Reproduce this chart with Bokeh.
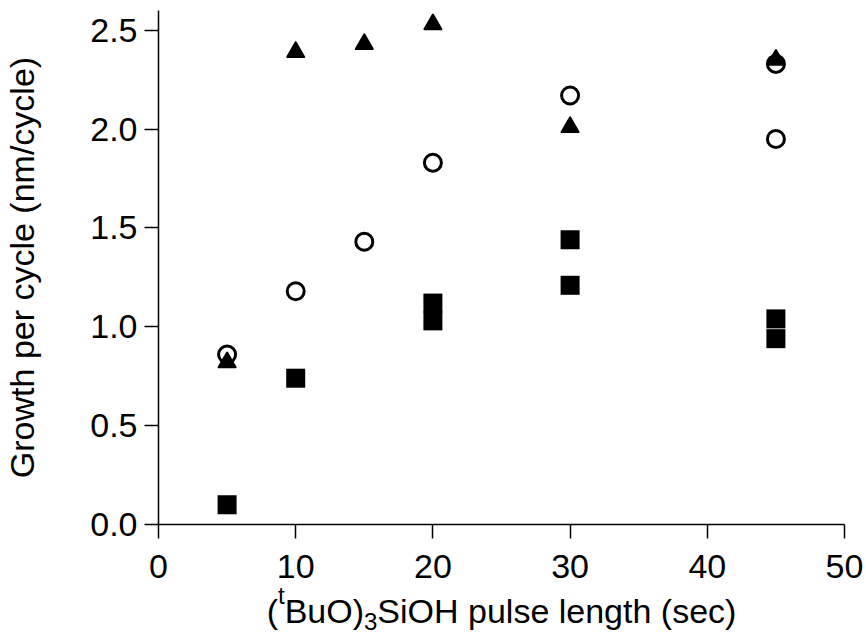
from bokeh.plotting import figure
from bokeh.models import Range1d, Label, PrintfTickFormatter
from bokeh.embed import file_html
from bokeh.resources import INLINE

# Growth per cycle vs. silanol pulse length, three precursor series
pulse_tri = [5, 10, 15, 20, 30, 45]
gpc_tri = [0.82, 2.39, 2.43, 2.53, 2.01, 2.35]

pulse_circ = [5, 10, 15, 20, 30, 45, 45]
gpc_circ = [0.86, 1.18, 1.43, 1.83, 2.17, 2.33, 1.95]

pulse_sq = [5, 10, 20, 20, 30, 30, 45, 45]
gpc_sq = [0.10, 0.74, 1.12, 1.03, 1.44, 1.21, 1.04, 0.94]

x_ticks = [0, 10, 20, 30, 40, 50]
y_ticks = [0.0, 0.5, 1.0, 1.5, 2.0, 2.5]
X_LIM = (0, 50)
Y_LIM = (0, 2.6)

FONT = "Liberation Sans"
FS = 34
W, H = 866, 641
# pixel box occupied by the axes (left, right, top, bottom)
AX_L, AX_R, AX_T, AX_B = 158, 844, 10, 524

# the plotting frame fills the canvas; axes sit at fixed locations inside it
sx = (AX_R - AX_L) / (X_LIM[1] - X_LIM[0])
sy = (AX_B - AX_T) / (Y_LIM[1] - Y_LIM[0])
x_lo = X_LIM[0] - AX_L / sx
x_hi = X_LIM[1] + (W - AX_R) / sx
y_hi = Y_LIM[1] + AX_T / sy
y_lo = Y_LIM[0] - (H - AX_B) / sy

p = figure(width=W, height=H, x_range=Range1d(x_lo, x_hi), y_range=Range1d(y_lo, y_hi),
           output_backend="svg", toolbar_location=None, min_border=0)
p.outline_line_color = None
p.grid.visible = False
p.background_fill_color = "white"
p.border_fill_color = "white"

for ax in (p.xaxis, p.yaxis):
    ax.axis_line_width = 1.5
    ax.axis_line_color = "black"
    ax.major_tick_line_width = 1.5
    ax.major_tick_line_color = "black"
    ax.major_tick_out = 14
    ax.major_tick_in = 0
    ax.minor_tick_line_color = None
    ax.major_label_text_font = FONT
    ax.major_label_text_font_size = f"{FS}px"
    ax.major_label_text_color = "black"

p.xaxis.fixed_location = Y_LIM[0]
p.yaxis.fixed_location = X_LIM[0]
p.xaxis.bounds = X_LIM
p.yaxis.bounds = Y_LIM
p.xaxis.ticker = x_ticks
p.yaxis.ticker = y_ticks
p.yaxis.formatter = PrintfTickFormatter(format="%.1f")
p.xaxis.major_label_standoff = 16
p.yaxis.major_label_standoff = 7

p.yaxis.axis_label = "Growth per cycle (nm/cycle)"
p.yaxis.axis_label_text_font = FONT
p.yaxis.axis_label_text_font_size = f"{FS}px"
p.yaxis.axis_label_text_font_style = "normal"
p.yaxis.axis_label_text_color = "black"
p.yaxis.axis_label_standoff = 46

# markers
p.scatter(pulse_circ, gpc_circ, marker="circle", size=17, fill_color=None,
          line_color="black", line_width=3)
p.scatter(pulse_sq, gpc_sq, marker="square", size=19, fill_color="black",
          line_color=None)
p.scatter(pulse_tri, gpc_tri, marker="triangle", size=17, fill_color="black",
          line_color="black", line_width=2, line_join="round")

# x-axis title with superscript t and subscript 3, set piece by piece
def to_x(px):
    return x_lo + px / sx
def to_y(py):
    return y_hi - py / sy

SMALL = 24
adv = {"(": 0.333, "t": 0.278, "BuO)": 2.334, "3": 0.556,
       "SiOH pulse length (sec)": 10.559}
pieces = [("(", FS, 0), ("t", SMALL, -15), ("BuO)", FS, 0), ("3", SMALL, 11),
          ("SiOH pulse length (sec)", FS, 0)]
total = sum(adv[s] * size for s, size, _ in pieces)
baseline = 610
px = (AX_L + AX_R) / 2 - total / 2
for txt, size, dy in pieces:
    p.add_layout(Label(x=to_x(px), y=to_y(baseline + dy), text=txt,
                       text_font=FONT, text_font_size=f"{size}px",
                       text_color="black", text_align="left",
                       text_baseline="alphabetic"))
    px += adv[txt] * size

open("out.html", "w").write(file_html(p, INLINE))
